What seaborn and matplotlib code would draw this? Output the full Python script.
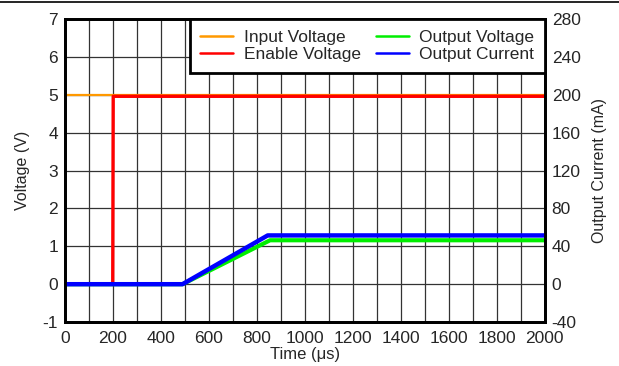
import matplotlib

matplotlib.use("Agg")

import matplotlib.pyplot as plt
import numpy as np
import pandas as pd
import seaborn as sns
from matplotlib.lines import Line2D

time_input = [0, 2000]
input_voltage = [5.0, 5.0]

time_enable = [0, 199, 201, 2000]
enable_voltage = [0.0, 0.0, 4.96, 4.96]

time_vout = [0, 490, 855, 2000]
output_voltage = [0.0, 0.0, 1.16, 1.16]

time_iout = [0, 490, 845, 2000]
output_current = [0.0, 0.0, 51.5, 51.5]

x_ticks = list(range(0, 2001, 200))
v_ticks = list(range(-1, 8))
i_ticks = list(range(-40, 281, 40))

sns.set_theme(style="white")
plt.rcParams["font.family"] = ["Liberation Sans", "DejaVu Sans"]
plt.rcParams["axes.unicode_minus"] = False

COLORS = {
    "Input Voltage": "#FF9900",
    "Enable Voltage": "#FF0000",
    "Output Voltage": "#00EE00",
    "Output Current": "#0000FF",
}

fig = plt.figure(figsize=(6.19, 3.66), dpi=100)
ax = fig.add_axes([0.105, 0.12, 0.775, 0.828])
ax2 = ax.twinx()

df_in = pd.DataFrame({"t": time_input, "v": input_voltage})
df_en = pd.DataFrame({"t": time_enable, "v": enable_voltage})
df_vo = pd.DataFrame({"t": time_vout, "v": output_voltage})
df_io = pd.DataFrame({"t": time_iout, "i": output_current})

sns.lineplot(data=df_in, x="t", y="v", ax=ax, color=COLORS["Input Voltage"], lw=1.6, estimator=None, sort=False)
sns.lineplot(data=df_vo, x="t", y="v", ax=ax, color=COLORS["Output Voltage"], lw=3.0, estimator=None, sort=False)
sns.lineplot(data=df_en, x="t", y="v", ax=ax, color=COLORS["Enable Voltage"], lw=2.4, estimator=None, sort=False)
sns.lineplot(data=df_io, x="t", y="i", ax=ax2, color=COLORS["Output Current"], lw=3.2, estimator=None, sort=False)

ax.set_xlim(0, 2000)
ax.set_ylim(-1, 7)
ax2.set_ylim(-40, 280)
ax.set_xticks(x_ticks)
ax.set_xticks(range(0, 2001, 100), minor=True)
ax.set_yticks(v_ticks)
ax2.set_yticks(i_ticks)

ax.grid(True, which="both", axis="x", color="#333333", lw=0.9)
ax.grid(True, which="major", axis="y", color="#333333", lw=0.9)
ax.set_axisbelow(True)

for a in (ax, ax2):
    a.tick_params(length=0, labelsize=12.5, pad=5, which="both")
    for sp in a.spines.values():
        sp.set_color("black")
        sp.set_linewidth(2)
ax.tick_params(axis="x", pad=6.5)

ax.set_xlabel("Time (μs)", fontsize=12, labelpad=1)
ax.set_ylabel("Voltage (V)", fontsize=11.5, labelpad=9)
ax2.set_ylabel("Output Current (mA)", fontsize=11.5, labelpad=8)

handles = [Line2D([], [], color=c, lw=1.8) for c in COLORS.values()]
leg = ax2.legend(
    handles, list(COLORS.keys()), loc="upper right", ncol=2, frameon=True,
    fancybox=False, framealpha=1, edgecolor="black", borderaxespad=0,
    fontsize=12.5, handlelength=1.9, columnspacing=0.85, labelspacing=0.12,
    borderpad=0.62, handletextpad=0.6,
)
leg.get_frame().set_linewidth(2)

fig.add_artist(Line2D([0, 1], [0.995, 0.995], color="black", lw=1.2, transform=fig.transFigure))

fig.savefig("out.png", dpi=100)
